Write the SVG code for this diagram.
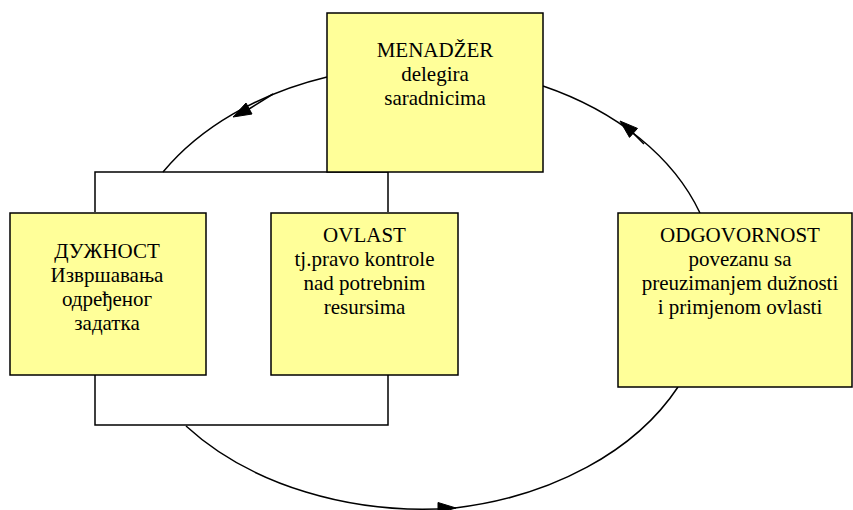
<svg xmlns="http://www.w3.org/2000/svg" width="853" height="510" viewBox="0 0 853 510">
<style>
.box{fill:#FFFF99;stroke:#000;stroke-width:1.5}
.ln{fill:none;stroke:#000;stroke-width:1.5}
.ah{fill:#000;stroke:#000;stroke-width:1}
.t{font-family:'Liberation Serif','Times New Roman',Times,serif;font-size:21px;fill:#000;text-anchor:middle}
</style>
<rect width="853" height="510" fill="#fff"/>
<g id="connectors">
<path class="ln" d="M95,212 V172 H388 V212"/>
<path class="ln" d="M95,375 V425 H388 V375"/>
<path class="ln" d="M163,172 A302,218 0 0,1 327,77"/>
<path class="ln" d="M543,86 A302,218 0 0,1 700,213"/>
<path class="ln" d="M678,387 A302,218 0 0,1 455,508 A302,218 0 0,1 186,426"/>
<path class="ln" d="M249,109 L273,94"/>
<polygon class="ah" points="233,117 252,114 246,103"/>
<path class="ln" d="M633,133 L644,144"/>
<polygon class="ah" points="620,121 637.5,128.4 629.5,137.4"/>
<polygon class="ah" points="456,508 438,502.5 438,513"/>
</g>
<g id="menadzer" class="t" font-family="Liberation Serif, Times New Roman, serif">
<rect class="box" x="327" y="13" width="216" height="159"/>
<text x="435" y="57">MENADŽER</text>
<text x="435" y="81">delegira</text>
<text x="435" y="105">saradnicima</text>
</g>
<g id="duznost" class="t" font-family="Liberation Serif, Times New Roman, serif">
<rect class="box" x="10" y="213" width="196" height="162"/>
<text x="107" y="258">ДУЖНОСТ</text>
<text x="107" y="282">Извршавања</text>
<text x="107" y="306">одређеног</text>
<text x="107" y="330">задатка</text>
</g>
<g id="ovlast" class="t" font-family="Liberation Serif, Times New Roman, serif">
<rect class="box" x="271" y="213" width="187" height="162"/>
<text x="364.5" y="242">OVLAST</text>
<text x="364.5" y="266">tj.pravo kontrole</text>
<text x="364.5" y="290">nad potrebnim</text>
<text x="364.5" y="314">resursima</text>
</g>
<g id="odgovornost" class="t" font-family="Liberation Serif, Times New Roman, serif">
<rect class="box" x="618" y="213" width="234" height="174"/>
<text x="740" y="242">ODGOVORNOST</text>
<text x="740" y="266">povezanu sa</text>
<text x="740" y="290">preuzimanjem dužnosti</text>
<text x="740" y="314">i primjenom ovlasti</text>
</g>
</svg>
